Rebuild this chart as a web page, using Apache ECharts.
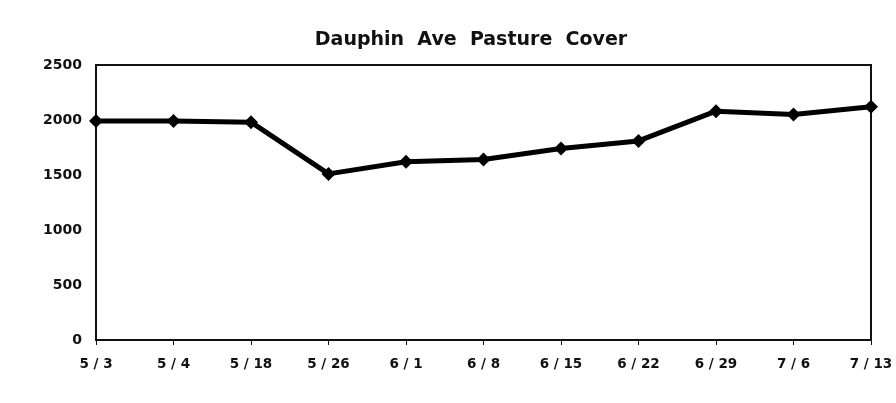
<!DOCTYPE html>
<html>
<head>
<meta charset="utf-8">
<script src="https://cdn.jsdelivr.net/npm/echarts@6/dist/echarts.min.js"></script>
<style>
  html, body { margin: 0; padding: 0; background: #fff; }
  #chart { width: 896px; height: 403px; }
</style>
</head>
<body>
<div id="chart"></div>
<script>
// 横轴日期
var dates = ['5/3', '5/4', '5/18', '5/26', '6/1', '6/8', '6/15', '6/22', '6/29', '7/6', '7/13'];
// 牧草覆盖量
var cover = [1990, 1990, 1980, 1510, 1620, 1640, 1740, 1810, 2080, 2050, 2120];

var myChart = echarts.init(document.getElementById('chart'));

// 宽体粗字，接近原图
var font = '"DejaVu Sans", sans-serif';

var option = {
    animation: false,
    backgroundColor: '#fff',
    title: {
        text: 'Dauphin  Ave  Pasture  Cover',
        left: 466,
        textAlign: 'center',
        top: 26,
        textStyle: {
            fontFamily: font,
            fontWeight: 'bold',
            fontSize: 19,
            color: '#111'
        }
    },
    grid: {
        left: 96,
        right: 25,
        top: 65,
        bottom: 63,
        show: true,
        borderColor: '#111',
        borderWidth: 2
    },
    xAxis: {
        type: 'category',
        boundaryGap: false,
        data: dates,
        axisLine: {
            lineStyle: { color: '#111', width: 2 }
        },
        axisTick: {
            show: true,
            length: 5,
            lineStyle: { color: '#111', width: 1 }
        },
        axisLabel: {
            margin: 17,
            fontFamily: font,
            fontWeight: 'bold',
            fontSize: 13.5,
            color: '#111',
            formatter: function (v) { return v.replace('/', ' / '); }
        },
        splitLine: { show: false }
    },
    yAxis: {
        type: 'value',
        min: 0,
        max: 2500,
        interval: 500,
        axisLine: {
            show: true,
            lineStyle: { color: '#111', width: 2 }
        },
        axisTick: { show: false },
        axisLabel: {
            margin: 14,
            fontFamily: font,
            fontWeight: 'bold',
            fontSize: 14,
            color: '#111',
            formatter: function (v) { return String(v); }
        },
        splitLine: { show: false }
    },
    series: [{
        name: 'Pasture Cover',
        type: 'line',
        data: cover,
        symbol: 'diamond',
        symbolSize: 14,
        lineStyle: { color: '#000', width: 5 },
        itemStyle: { color: '#000' }
    }]
};

myChart.setOption(option);
</script>
</body>
</html>
